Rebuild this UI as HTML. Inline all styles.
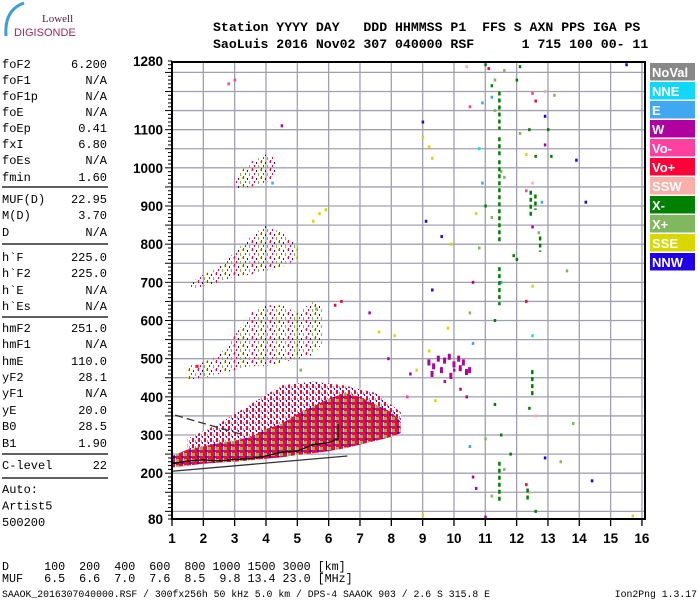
<!DOCTYPE html>
<html><head><meta charset="utf-8"><style>
html,body{margin:0;padding:0;background:#fff;}
body{width:700px;height:600px;position:relative;overflow:hidden;font-family:"Liberation Sans",sans-serif;}
svg{position:absolute;left:0;top:0;}
</style></head><body>
<svg id="chart" width="700" height="600" viewBox="0 0 700 600" xmlns="http://www.w3.org/2000/svg">
<defs>
<pattern id="denseFill" width="8" height="6" patternUnits="userSpaceOnUse">
<rect width="8" height="6" fill="#ff0038"/><rect x="0" y="3" width="3" height="3" fill="#80b860"/><rect x="5" y="0" width="2" height="2" fill="#2000e8"/><rect x="4" y="4" width="2" height="2" fill="#ff0038"/><rect x="7" y="2" width="1" height="4" fill="#fff"/>
</pattern>
<pattern id="sparseFill" width="9" height="8" patternUnits="userSpaceOnUse">
<rect x="0" y="0" width="1" height="3" fill="#ff0038"/><rect x="4" y="2" width="1" height="2" fill="#2000e8"/><rect x="6" y="5" width="1" height="3" fill="#80b860"/><rect x="2" y="5" width="1" height="2" fill="#ff0038"/><rect x="8" y="1" width="1" height="2" fill="#d8d800"/>
</pattern>
<pattern id="midFill" width="6" height="6" patternUnits="userSpaceOnUse">
<rect width="6" height="6" fill="#fff"/><rect x="0" y="0" width="2" height="4" fill="#ff0038"/><rect x="3" y="2" width="1" height="3" fill="#80b860"/><rect x="4" y="4" width="1" height="2" fill="#2000e8"/>
</pattern>
</defs>
<g id="logo">
<path d="M6,36 Q4,10 24,3" fill="none" stroke="#3aa0d8" stroke-width="3"/>
<text x="42" y="22" font-family="Liberation Serif,serif" font-size="11" fill="#502040">Lowell</text>
<text x="14" y="36" font-family="Liberation Sans,sans-serif" font-size="11" fill="#a0285a">DIGISONDE</text>
</g>
<g font-family="Liberation Mono,monospace" font-weight="bold" font-size="13.2" fill="#000">
<text x="213" y="31" xml:space="preserve">Station YYYY DAY   DDD HHMMSS P1  FFS S AXN PPS IGA PS</text>
<text x="213" y="48" xml:space="preserve">SaoLuis 2016 Nov02 307 040000 RSF      1 715 100 00- 11</text>
</g>
<g id="params" font-family="Liberation Mono,monospace" font-size="12" fill="#000"></g>
<g id="grid"></g>
<g id="regions"></g>
<g id="points"></g>
<g id="traces"></g>
<g id="axes"></g>
<g id="legend"></g>
<g font-family="Liberation Mono,monospace" font-size="11.7" fill="#000">
<text x="2" y="570" xml:space="preserve">D     100  200  400  600  800 1000 1500 3000 [km]</text>
<text x="2" y="582" xml:space="preserve">MUF   6.5  6.6  7.0  7.6  8.5  9.8 13.4 23.0 [MHz]</text>
</g>
<text x="2" y="597" font-family="Liberation Mono,monospace" font-size="9.8" xml:space="preserve">SAAOK_2016307040000.RSF / 300fx256h 50 kHz 5.0 km / DPS-4 SAAOK 903 / 2.6 S 315.8 E</text>
<text x="697" y="597" text-anchor="end" font-family="Liberation Mono,monospace" font-size="9.8">Ion2Png 1.3.17</text>
</svg>
<script>
// ---- data ----
const paramNames = ["foF2","foF1","foF1p","foE","foEp","fxI","foEs","fmin","MUF(D)","M(D)","D","h`F","h`F2","h`E","h`Es","hmF2","hmF1","hmE","yF2","yF1","yE","B0","B1","C-level"];
const paramValues = ["6.200","N/A","N/A","N/A","0.41","6.80","N/A","1.60","22.95","3.70","N/A","225.0","225.0","N/A","N/A","251.0","N/A","110.0","28.1","N/A","20.0","28.5","1.90","22"];
const xTicks = [1,2,3,4,5,6,7,8,9,10,11,12,13,14,15,16];
const yTickLabels = [80,200,300,400,500,600,700,800,900,1000,1100,1280];
const legendNames = ["NoVal","NNE","E","W","Vo-","Vo+","SSW","X-","X+","SSE","NNW"];
const legendColors = ["#888888","#11d8f8","#40a8f0","#b000a0","#ff40a0","#ff0038","#f8b0a8","#008000","#80b860","#d8d800","#2000e8"];
const denseFreq = [1.0,1.5,2.0,2.5,3.0,3.5,4.0,4.5,5.0,5.5,6.0,6.5,7.0,7.5,8.0,8.3];
const denseLow  = [215,220,225,228,230,234,238,242,248,252,258,265,275,285,295,305];
const denseHigh = [245,262,270,280,285,295,315,330,355,375,395,410,400,380,360,335];
const hop2Freq = [1.5,2.0,2.5,3.0,3.5,4.0,4.5,5.0,5.5,5.8];
const hop2Low  = [445,450,460,470,480,480,490,500,510,540];
const hop2High = [480,490,510,560,620,640,640,620,650,640];
const hop3Freq = [1.6,2.0,2.5,3.0,3.5,4.0,4.5,5.0];
const hop3Low  = [680,690,700,715,720,730,740,760];
const hop3High = [700,720,740,780,820,850,830,800];
const hop4Freq = [3.0,3.5,4.0,4.3];
const hop4Low  = [945,950,960,980];
const hop4High = [975,1015,1035,1030];
const upperFreq = [1.5,2.5,3.5,4.5,5.5,6.5,7.5,8.3];
const upperLow  = [260,280,295,330,375,405,380,335];
const upperHigh = [290,330,380,430,440,430,410,360];
const echoF = [11.0,10.4,11.1,11.6,12.1,15.5,11.3,11.2,12.0,12.9,12.5,12.6,13.2,11.2,10.9,11.3,10.5,12.9,9.0,13.0,12.4,12.1,9.0,9.2,12.9,9.3,10.8,12.6,12.3,13.1,11.5,10.9,11.6,12.5,12.3,14.2,11.0,12.8,10.7,11.2,9.1,12.5,12.7,9.6,9.9,10.8,11.9,12.0,13.6,11.5,10.6,12.5,9.3,12.3,10.5,11.3,9.8,12.5,10.6,9.2,10.0,9.7,10.2,10.4,9.4,11.3,12.4,12.6,13.8,11.5,11.0,10.5,11.8,12.9,13.4,11.6,10.6,14.4,12.3,12.4,10.7,11.2,9.0,11.0,12.6,15.7,13.9,5.7,5.5,5.9,4.2,8.1,7.6,7.9,8.6,8.8,8.5,7.3,6.2,6.4,2.8,3.0,1.8,5.1,5.6,4.5];
const echoH = [1270,1265,1260,1255,1265,1270,1230,1215,1230,1200,1195,1175,1190,1185,1170,1150,1160,1135,1120,1100,1100,1090,1080,1055,1060,1025,1050,1030,1035,1030,990,960,975,960,940,910,900,910,880,870,860,845,830,820,800,790,770,760,730,700,700,690,680,650,620,600,580,560,540,520,470,440,420,400,390,380,370,350,330,300,290,270,250,240,230,210,190,180,170,150,160,140,90,85,100,88,1020,880,860,890,960,560,570,500,460,470,400,620,640,650,1220,1230,480,470,630,1110];
const echoC = [7,6,5,8,7,10,8,7,7,6,4,5,8,2,2,8,4,10,10,7,7,8,9,9,3,9,1,7,9,7,8,2,8,6,4,10,7,2,9,8,10,3,8,10,9,8,7,7,8,2,3,9,10,5,8,7,9,1,2,9,3,3,3,3,9,7,7,6,8,7,8,2,7,10,8,8,3,10,5,6,3,8,9,3,7,9,10,9,9,9,2,9,9,3,3,9,4,3,5,5,4,4,5,8,8,3];
const streakF  = [11.45,11.45,11.45,11.45,12.45,12.6,12.75,12.5,11.45,12.35];
const streakH1 = [1100,1030,800,640,870,890,780,400,120,130];
const streakH2 = [1200,1080,1020,740,940,930,820,470,230,160];
const wF = [9.2,9.35,9.5,9.7,9.85,10.0,10.15,10.3,10.5,9.3,9.6,9.9,10.2,10.4];
const wH = [490,480,500,495,505,485,500,490,470,460,470,455,475,465];
const traceF = [1.0,1.5,2.0,2.5,3.0,3.5,4.0,4.5,5.0,5.5,6.0,6.3,6.3];
const traceH = [225,232,235,232,236,238,245,255,258,275,280,290,330];
const baseF = [1.0,6.6];
const baseH = [205,245];
const dashF = [1.1,3.3];
const dashH = [352,300];

const NS="http://www.w3.org/2000/svg";
const L=172,R=645,T=62,B=519;
const X=f=>L+(f-1)*31.33;
const Y=h=>B-(h-80)*0.3817;
function mk(tag,attrs,parent){const e=document.createElementNS(NS,tag);for(const k in attrs)e.setAttribute(k,attrs[k]);parent.appendChild(e);return e;}
const $=id=>document.getElementById(id);

const P=$("params");
const rowY=[64,80,96,112,128,144,160,177,199,215,232,257,273,290,306,328,344,361,377,393,410,426,443,465];
paramNames.forEach((n,i)=>{
  const t=mk("text",{x:2,y:rowY[i]+4},P);t.textContent=n;
  
  
  const v=mk("text",{x:107,y:rowY[i]+4,"text-anchor":"end"},P);v.textContent=paramValues[i];
  
  
});
[187,244,317,454,478].forEach((y,i)=>{
  const l=mk("line",{x1:2,x2:108,y1:y,y2:y,stroke:"#000","stroke-width":1.3},P);
  
  
});
["Auto:","Artist5","500200"].forEach((s,i)=>{
  const t=mk("text",{x:2,y:493+i*16.5},P);t.textContent=s;
  
  
});

const G=$("grid");
for(let h=100;h<=1280;h+=50){const l=mk("line",{x1:L,x2:R,y1:Y(h),y2:Y(h),stroke:"#a0a0b0","stroke-width":1.3},G);
  
  }
xTicks.forEach(f=>{if(f>1){const l=mk("line",{x1:X(f),x2:X(f),y1:T,y2:B,stroke:"#a0a0b0","stroke-width":1.3},G);
  
  }});

function region(fr,lo,hi,fill,name){
  let d="M"+fr.map((f,i)=>X(f).toFixed(1)+","+Y(lo[i]).toFixed(1)).join(" L");
  for(let i=fr.length-1;i>=0;i--)d+=" L"+X(fr[i]).toFixed(1)+","+Y(hi[i]).toFixed(1);
  const p=mk("path",{d:d+"Z",fill:fill},$("regions"));
  
  
}
region(hop4Freq,hop4Low,hop4High,"url(#sparseFill)","echo-region-hop4");
region(hop3Freq,hop3Low,hop3High,"url(#sparseFill)","echo-region-hop3");
region(hop2Freq,hop2Low,hop2High,"url(#sparseFill)","echo-region-hop2");
region(upperFreq,upperLow,upperHigh,"url(#midFill)","echo-region-upper");
region(denseFreq,denseLow,denseHigh,"url(#denseFill)","echo-region-f-trace");

const PT=$("points");
echoF.forEach((f,i)=>{const r=mk("rect",{x:X(f)-1,y:Y(echoH[i])-1.5,width:2.5,height:3,fill:legendColors[echoC[i]]},PT);
  
  });
streakF.forEach((f,i)=>{const r=mk("line",{x1:X(f),x2:X(f),y1:Y(streakH2[i]),y2:Y(streakH1[i]),stroke:"#008000","stroke-width":2.5,"stroke-dasharray":"4,3"},PT);
  
  });
wF.forEach((f,i)=>{const r=mk("rect",{x:X(f)-1.5,y:Y(wH[i])-3,width:3,height:6,fill:"#b000a0"},PT);
  
  });

const TR=$("traces");
const tp=mk("polyline",{points:traceF.map((f,i)=>X(f)+","+Y(traceH[i])).join(" "),fill:"none",stroke:"#000","stroke-width":1.3},TR);


const bl=mk("line",{x1:X(baseF[0]),y1:Y(baseH[0]),x2:X(baseF[1]),y2:Y(baseH[1]),stroke:"#333","stroke-width":1.3},TR);


const dl=mk("line",{x1:X(dashF[0]),y1:Y(dashH[0]),x2:X(dashF[1]),y2:Y(dashH[1]),stroke:"#333","stroke-width":1.3,"stroke-dasharray":"8,4"},TR);



const A=$("axes");
const fr=mk("rect",{x:L,y:T,width:R-L,height:B-T,fill:"none",stroke:"#000","stroke-width":2},A);


for(let h=80;h<=1280;h+=10){const major=(h%50===0);const l=mk("line",{x1:L-(major?7:4),x2:L,y1:Y(h),y2:Y(h),stroke:"#000","stroke-width":1},A);
  
  }
yTickLabels.forEach(h=>{const t=mk("text",{x:163,y:Y(h)+5,"text-anchor":"end","font-size":13.5,"font-weight":"bold"},A);t.textContent=h;
  
  });
xTicks.forEach(f=>{const l=mk("line",{x1:X(f),x2:X(f),y1:B,y2:B+7,stroke:"#000","stroke-width":1.3},A);
  
  
  const t=mk("text",{x:X(f),y:543,"text-anchor":"middle","font-size":13.5,"font-weight":"bold"},A);t.textContent=f;
  
  });

const LG=$("legend");
legendNames.forEach((n,i)=>{
  const y=63+i*19;
  const r=mk("rect",{x:650,y:y,width:45,height:17.5,fill:legendColors[i]},LG);
  
  
  const t=mk("text",{x:652,y:y+14,"font-size":13,"font-weight":"bold",fill:"#fff"},LG);t.textContent=n;
  
  
});
</script>
</body></html>
